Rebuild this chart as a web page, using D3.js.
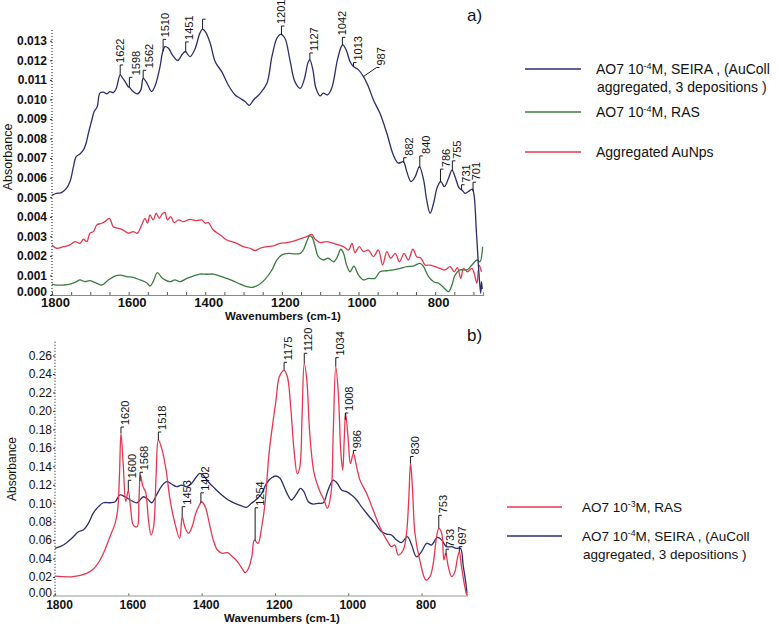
<!DOCTYPE html>
<html><head><meta charset="utf-8">
<script src="https://cdn.jsdelivr.net/npm/d3@7"></script>
<style>body{margin:0;background:#fff}svg{display:block}text{font-family:Arial,"Liberation Sans",sans-serif;fill:#111}</style>
</head><body>
<svg id="c" width="778" height="626"></svg>
<script>
// ---------- DATA ----------
// Panel a (absorbance x 1e-3, converted below)
const aBlueWn = [1800,1788,1775,1762,1753,1744,1737,1727,1718,1711,1705,1696,1690,1682,1675,1666,1657,1649,1640,1633,1622,1616,1609,1601,1598,1588,1577,1568,1562,1553,1540,1531,1518,1512,1505,1496,1486,1472,1460,1452,1440,1427,1414,1407,1399,1387,1374,1357,1340,1322,1309,1296,1285,1274,1257,1239,1226,1213,1203,1192,1179,1166,1152,1142,1131,1127,1119,1111,1100,1092,1081,1070,1055,1045,1041,1032,1022,1013,1000,987,974,961,944,926,909,896,883,874,863,852,841,830,822,813,804,794,785,776,765,756,748,737,730,722,714,703,699,692,685,681,679,677];
const aBlueAbs = [5.11,5.20,5.23,5.46,5.80,6.56,7.07,7.21,7.42,7.76,8.27,8.95,9.38,9.63,10.32,10.37,10.28,10.40,10.35,10.52,11.25,11.10,10.91,10.65,10.62,10.40,10.28,10.49,11.08,10.86,10.40,10.69,11.68,12.36,12.70,12.62,12.28,11.99,12.31,12.45,12.19,12.57,13.39,13.59,13.44,12.87,11.93,11.42,10.74,10.23,10.06,9.89,9.70,9.97,10.30,10.83,12.19,13.13,13.33,13.13,12.02,10.91,10.57,11.00,11.93,12.02,11.51,10.57,10.18,10.32,10.23,10.57,12.02,12.70,12.79,12.53,11.93,11.68,11.51,11.17,10.65,9.97,9.29,8.27,7.16,6.74,6.82,6.31,5.80,6.05,6.56,5.88,4.86,4.18,4.69,5.54,5.80,5.54,5.97,6.39,6.05,5.46,5.37,5.20,5.28,5.41,5.20,3.16,0.94,0.09,0.68,0.30];
const aRedWn = [1800,1788,1770,1753,1740,1727,1718,1709,1701,1692,1683,1670,1662,1650,1640,1627,1614,1601,1588,1577,1566,1557,1551,1544,1536,1528,1520,1511,1505,1499,1490,1481,1470,1457,1440,1422,1409,1400,1392,1379,1361,1344,1331,1318,1300,1283,1270,1257,1239,1222,1205,1187,1174,1161,1148,1135,1122,1113,1100,1083,1065,1052,1039,1026,1017,1009,998,987,974,961,948,937,926,916,904,893,881,870,858,848,837,826,813,800,787,774,761,750,742,733,726,716,704,698,691,685,679];
const aRedAbs = [2.56,2.39,2.47,2.56,2.73,2.64,2.85,2.73,3.16,3.24,3.58,3.67,3.75,3.92,3.49,3.41,3.32,3.16,3.24,3.16,3.58,3.92,3.67,4.09,3.84,4.18,3.92,4.18,4.21,3.84,4.01,3.70,3.84,3.75,3.87,3.80,3.84,3.67,3.70,3.32,3.07,2.81,2.73,2.64,2.47,2.39,2.27,2.39,2.47,2.51,2.64,2.68,2.73,2.81,2.90,2.98,3.10,2.85,2.68,2.73,2.64,2.56,2.47,2.30,2.64,2.17,2.47,2.22,2.30,1.96,2.30,1.53,2.22,1.88,2.13,1.70,2.13,1.79,2.34,1.96,1.88,1.53,1.53,1.45,1.36,1.28,1.45,1.19,1.40,0.85,1.36,1.19,1.36,1.11,0.60,1.53,1.19];
const aGreenWn = [1800,1788,1770,1753,1736,1727,1714,1701,1683,1670,1653,1636,1622,1605,1588,1570,1553,1544,1536,1525,1514,1505,1492,1479,1466,1448,1431,1414,1396,1379,1361,1344,1327,1309,1292,1279,1261,1244,1226,1213,1200,1183,1166,1152,1144,1135,1128,1122,1113,1105,1092,1079,1065,1057,1046,1039,1031,1022,1012,1000,987,974,957,944,926,909,891,874,857,839,830,817,804,791,778,765,756,748,735,717,704,691,683,676];
const aGreenAbs = [0.56,0.51,0.51,0.55,0.68,0.77,0.68,0.73,0.60,0.51,0.77,0.97,1.02,0.94,0.90,0.77,0.63,0.46,0.68,1.14,0.90,0.77,0.68,0.77,0.68,0.85,0.97,1.07,1.06,1.07,0.97,0.85,0.72,0.56,0.43,0.39,0.51,0.80,1.28,1.79,2.05,2.13,2.10,2.13,2.30,2.73,3.02,2.98,2.47,1.96,1.79,1.88,1.70,1.88,2.34,2.13,1.53,1.19,1.48,1.02,0.77,0.85,0.85,1.19,1.24,1.28,1.36,1.45,1.48,1.62,1.45,0.94,0.68,0.60,0.39,0.17,0.51,1.02,1.28,1.28,1.53,1.79,1.70,2.47];
const aPeaks = [1622,1598,1562,1510,1451,1407,1201,1127,1042,1013,987,882,840,786,755,731,701];
const aPeakLabels = ["1622","1598","1562","1510","1451","","1201","1127","1042","1013","987","882","840","786","755","731","701"];
const aYTicks = [0,0.001,0.002,0.003,0.004,0.005,0.006,0.007,0.008,0.009,0.010,0.011,0.012,0.013];
const aXTicks = [1800,1750,1700,1650,1600,1550,1500,1450,1400,1350,1300,1250,1200,1150,1100,1050,1000,950,900,850,800,750,700];
const xLabels = [1800,1600,1400,1200,1000,800];

// Panel b
const bRedWn = [1800,1750,1714,1696,1677,1664,1650,1636,1629,1624,1620,1614,1607,1600,1594,1586,1576,1571,1567,1560,1553,1545,1538,1531,1524,1518,1508,1497,1486,1475,1460,1453,1446,1436,1426,1416,1406,1400,1390,1379,1368,1357,1343,1329,1316,1302,1290,1281,1272,1263,1256,1246,1236,1227,1216,1207,1197,1188,1175,1166,1157,1148,1139,1132,1126,1120,1113,1105,1093,1079,1066,1057,1047,1041,1034,1027,1020,1015,1011,1007,1000,994,986,979,968,950,932,914,895,882,873,864,850,841,835,830,825,818,805,788,777,768,759,753,745,739,734,727,718,709,703,697,691,682,677];
const bRedAbs = [0.021,0.0205,0.024,0.0284,0.0385,0.0493,0.0637,0.0782,0.0926,0.132,0.176,0.143,0.102,0.114,0.096,0.076,0.0745,0.1035,0.1305,0.118,0.1125,0.0818,0.0655,0.0745,0.132,0.1685,0.158,0.136,0.1035,0.0818,0.062,0.0854,0.0745,0.0674,0.0745,0.089,0.098,0.1016,0.096,0.0782,0.060,0.0493,0.0457,0.0464,0.042,0.0366,0.0295,0.0247,0.0295,0.042,0.060,0.0566,0.0745,0.10,0.154,0.183,0.212,0.237,0.244,0.237,0.2045,0.158,0.132,0.1395,0.194,0.2516,0.2335,0.1757,0.132,0.1143,0.1035,0.0945,0.1107,0.1757,0.248,0.219,0.154,0.136,0.1685,0.1974,0.1685,0.143,0.154,0.143,0.125,0.1107,0.0926,0.0745,0.060,0.0529,0.0547,0.0439,0.0493,0.0674,0.1035,0.143,0.118,0.0674,0.0385,0.0168,0.0204,0.0349,0.0637,0.0728,0.0674,0.0385,0.0457,0.0312,0.0204,0.0258,0.0385,0.0475,0.0312,0.0095,0.0005];
const bBlueWn = [1800,1777,1754,1736,1723,1709,1696,1682,1668,1650,1636,1623,1609,1591,1576,1559,1546,1536,1523,1509,1495,1482,1468,1455,1441,1427,1414,1405,1396,1382,1364,1345,1327,1309,1291,1277,1264,1250,1236,1223,1209,1197,1186,1177,1167,1155,1143,1130,1121,1109,1096,1082,1068,1055,1041,1030,1018,1005,991,977,964,946,927,909,895,882,868,855,839,827,814,800,786,773,757,745,732,718,705,694,686,679,676];
const bBlueAbs = [0.0511,0.0547,0.062,0.0691,0.071,0.0782,0.089,0.096,0.1005,0.1005,0.1016,0.1089,0.107,0.1027,0.1005,0.107,0.104,0.1005,0.1089,0.1186,0.1233,0.1208,0.1179,0.1197,0.1179,0.1216,0.1287,0.1324,0.1306,0.1233,0.116,0.1089,0.1035,0.0999,0.097,0.0956,0.0999,0.1042,0.1107,0.1216,0.1276,0.1295,0.127,0.1197,0.1107,0.1035,0.1089,0.1161,0.1125,0.1016,0.0991,0.0999,0.1005,0.1143,0.1251,0.1216,0.1143,0.1125,0.1089,0.1035,0.0962,0.0872,0.0782,0.0691,0.0666,0.0655,0.0601,0.0572,0.0637,0.0547,0.042,0.0475,0.0566,0.0547,0.063,0.0601,0.0529,0.0529,0.0511,0.0511,0.0312,0.0132,0.0024];
const bPeaks = [1620,1600,1568,1518,1453,1402,1254,1175,1120,1034,1008,986,830,753,733,697];
const bPeakLabels = ["1620","1600","1568","1518","1453","1402","1254","1175","1120","1034","1008","986","830","753","733","697"];
const bYTicks = [0,0.02,0.04,0.06,0.08,0.10,0.12,0.14,0.16,0.18,0.20,0.22,0.24,0.26];
const bXTicks = [1800,1600,1400,1200,1000,800];

const legendA = [
  {color:"blue", pre:"AO7 10", sup:"-4", post:"M,  SEIRA , (AuColl", line2:"aggregated, 3 depositions )"},
  {color:"green", pre:"AO7 10", sup:"-4", post:"M,  RAS", line2:""},
  {color:"red", pre:"Aggregated AuNps", sup:"", post:"", line2:""}
];
const legendB = [
  {color:"red", pre:"AO7 10", sup:"-3", post:"M,  RAS", line2:""},
  {color:"blue", pre:"AO7 10", sup:"-4", post:"M,  SEIRA , (AuColl", line2:"aggregated, 3 depositions )"}
];

// ---------- LAYOUT / STYLE ----------
const COL = {blue:"#2b2e6a", red:"#e5384f", green:"#3b7a3e"};
const aLift = [10,10,8,12,10,10,9,7,8,4,9,5,12,13,10,5,9];
const aDx   = [0,7,6,2,3,0,0,4,0,5,18,5,6,6,5,4,3];
const aLead = [0,0,0,0,0,0,0,0,0,0,13,0,0,0,0,0,0];
const bLift = [6,10,9,8,10,10,33,8,10,9,7,3,7,13,6,5];
const bDx   = [4,4,4,4,5,4,5,4,4,4,4,4,4,4,4,3];

const svg = d3.select("#c");
svg.append("rect").attr("width",778).attr("height",626).attr("fill","#fff");

function interp(ws, vs, w){
  for(let i=0;i<ws.length-1;i++){
    if(w<=ws[i] && w>=ws[i+1]){ const t=(ws[i]-w)/(ws[i]-ws[i+1]); return vs[i]+t*(vs[i+1]-vs[i]); }
  }
  return vs[vs.length-1];
}

function drawSeries(g,x,y,ws,vs,color){
  const line = d3.line().x(d=>x(d[0])).y(d=>y(d[1])).curve(d3.curveCatmullRom.alpha(0.5));
  g.append("path").datum(ws.map((w,i)=>[w,vs[i]])).attr("d",line)
    .attr("fill","none").attr("stroke",color).attr("stroke-width",1.3).attr("stroke-linejoin","round");
}

function annotate(g,x,y,ws,vs,peaks,labels,lift,dx,lead,fs){
  peaks.forEach((w,i)=>{
    const px=x(w), py=y(interp(ws,vs,w)), top=py-lift[i], ld=(lead?lead[i]:0);
    g.append("path").attr("d",`M${px},${py}L${px+ld},${top}h3`).attr("fill","none").attr("stroke","#1a1a1a").attr("stroke-width",1);
    if(labels[i]) g.append("text").attr("transform",`translate(${px+dx[i]},${top-2}) rotate(-90)`)
      .attr("dy","0.36em").attr("font-size",fs).text(labels[i]);
  });
}

function legend(g, items, x0, x1, tx, ys, fs){
  items.forEach((it,i)=>{
    const y=ys[i];
    g.append("line").attr("x1",x0).attr("x2",x1).attr("y1",y).attr("y2",y).attr("stroke",COL[it.color]).attr("stroke-width",1.3);
    const t=g.append("text").attr("x",tx).attr("y",y+5).attr("font-size",fs);
    t.append("tspan").text(it.pre);
    if(it.sup){ t.append("tspan").attr("font-size",fs*0.65).attr("dy",-5).text(it.sup); t.append("tspan").attr("dy",5).text(it.post);}
    else if(it.post) t.append("tspan").text(it.post);
    if(it.line2) g.append("text").attr("x",tx+1).attr("y",y+23).attr("font-size",fs).text(it.line2);
  });
}

// ---------- PANEL A ----------
{
  const x = d3.scaleLinear().domain([1800,675]).range([52,483]);
  const y = d3.scaleLinear().domain([0,0.01355]).range([295,30]);
  const g = svg.append("g");
  const sc = v=>v/1000;
  const xa = g.append("g").attr("transform","translate(0,295)")
    .call(d3.axisBottom(x).tickValues(aXTicks).tickSize(-3).tickPadding(3).tickFormat(d=>xLabels.includes(d)?d:""));
  xa.select(".domain").attr("stroke","#888").attr("stroke-width",1.2);
  xa.selectAll(".tick line").attr("stroke","#555");
  xa.selectAll("text").attr("dx",3).attr("font-size",13).attr("font-weight","bold").attr("fill","#111").attr("font-family","Arial, 'Liberation Sans', sans-serif");
  const ya = g.append("g").attr("transform","translate(52,0)")
    .call(d3.axisLeft(y).tickValues(aYTicks).tickSize(2).tickPadding(3).tickFormat(d3.format(".3f")));
  ya.select(".domain").remove();
  ya.selectAll(".tick line").attr("stroke","#333");
  ya.selectAll("text").attr("font-size",12).attr("font-weight","bold").attr("fill","#111").attr("font-family","Arial, 'Liberation Sans', sans-serif");
  ya.selectAll(".tick").filter(d=>d===0).select("text").attr("dy","0.05em");
  g.append("line").attr("x1",52).attr("x2",52).attr("y1",30).attr("y2",295).attr("stroke","#333").attr("stroke-width",1.2).attr("stroke-dasharray","1,2");
  drawSeries(g,x,y,aRedWn,aRedAbs.map(sc),COL.red);
  drawSeries(g,x,y,aGreenWn,aGreenAbs.map(sc),COL.green);
  drawSeries(g,x,y,aBlueWn,aBlueAbs.map(sc),COL.blue);
  annotate(g,x,y,aBlueWn,aBlueAbs.map(sc),aPeaks,aPeakLabels,aLift,aDx,aLead,11);
  g.append("text").attr("transform","translate(12,157) rotate(-90)").attr("text-anchor","middle").attr("font-size",12.5).text("Absorbance");
  g.append("text").attr("x",283).attr("y",320).attr("text-anchor","middle").attr("font-size",11.5).attr("font-weight","bold").text("Wavenumbers (cm-1)");
  g.append("text").attr("x",467).attr("y",21).attr("font-size",17).text("a)");
  legend(g, legendA, 525, 581, 596, [69,112,152], 14);
}

// ---------- PANEL B ----------
{
  const x = d3.scaleLinear().domain([1800,676]).range([55,467]);
  const y = d3.scaleLinear().domain([0,0.275]).range([595.5,341.7]);
  const g = svg.append("g");
  const xa = g.append("g").attr("transform","translate(0,595.5)")
    .call(d3.axisBottom(x).tickValues(bXTicks).tickSize(-2).tickPadding(5).tickFormat(d=>d));
  xa.select(".domain").attr("stroke","#999").attr("stroke-width",1.2);
  xa.selectAll(".tick line").attr("stroke","#555");
  xa.selectAll("text").attr("dx",4).attr("font-size",12).attr("font-weight","bold").attr("fill","#111").attr("font-family","Arial, 'Liberation Sans', sans-serif");
  const ya = g.append("g").attr("transform","translate(55,0)")
    .call(d3.axisLeft(y).tickValues(bYTicks).tickSize(2).tickPadding(1).tickFormat(d3.format(".2f")));
  ya.select(".domain").remove();
  ya.selectAll(".tick line").attr("stroke","#333");
  ya.selectAll("text").attr("font-size",12).attr("fill","#111").attr("font-family","Arial, 'Liberation Sans', sans-serif");
  ya.selectAll(".tick").filter(d=>d===0).select("text").attr("dy","0.1em");
  g.append("line").attr("x1",55).attr("x2",55).attr("y1",341.7).attr("y2",595.5).attr("stroke","#333").attr("stroke-width",1.2).attr("stroke-dasharray","1,2");
  drawSeries(g,x,y,bBlueWn,bBlueAbs,COL.blue);
  drawSeries(g,x,y,bRedWn,bRedAbs,COL.red);
  annotate(g,x,y,bRedWn,bRedAbs,bPeaks,bPeakLabels,bLift,bDx,null,11);
  g.append("text").attr("transform","translate(16,469) rotate(-90)").attr("text-anchor","middle").attr("font-size",12).text("Absorbance");
  g.append("text").attr("x",282).attr("y",622).attr("text-anchor","middle").attr("font-size",11.5).attr("font-weight","bold").text("Wavenumbers (cm-1)");
  g.append("text").attr("x",467).attr("y",341).attr("font-size",17).text("b)");
  legend(g, legendB, 507, 562, 582, [507,536], 13.5);
}
</script>
</body></html>
